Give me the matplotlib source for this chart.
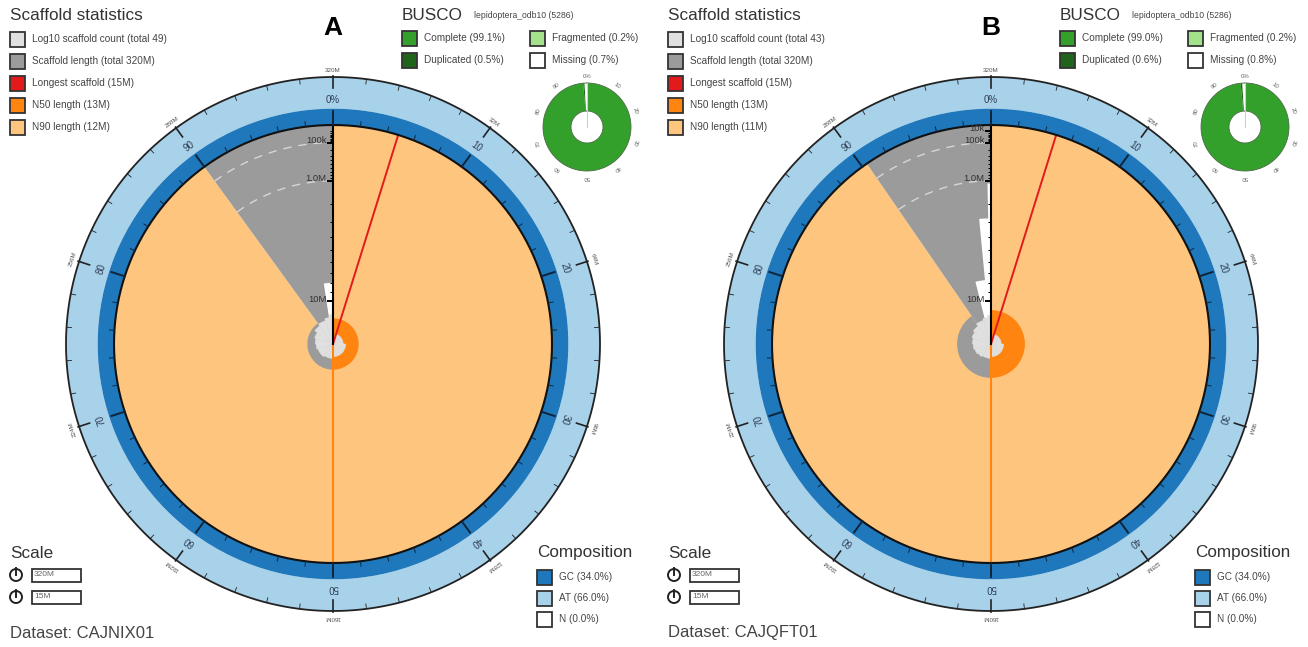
import numpy as np
import matplotlib
matplotlib.use("Agg")
import matplotlib.pyplot as plt
from matplotlib.patches import Rectangle, Circle

plt.rcParams["font.family"] = ["Liberation Sans", "DejaVu Sans"]

W, H = 1308, 647

# assembly summary (lengths in Mb)
tags = ["A", "B"]
datasets = ["CAJNIX01", "CAJQFT01"]
total_len = [320, 320]
longest = [15.4, 15.4]
n50_len = [13, 13]
n90_len = [12, 11]
scaffold_total = [49, 43]
n50_pct = [50, 50]
n90_pct = [90, 90.4]
gc_pct = [34.0, 34.0]
at_pct = [66.0, 66.0]
n_pct = [0.0, 0.0]

busco_lineage = "lepidoptera_odb10 (5286)"
busco_complete = [99.1, 99.0]
busco_duplicated = [0.5, 0.6]
busco_fragmented = [0.2, 0.2]
busco_missing = [0.7, 0.8]

# cumulative scaffold count along the assembly (bin edges in %)
count_edges = [0, 5, 10, 15, 20, 25, 30, 35, 40, 45, 50, 55, 60, 65, 70, 75, 80, 85, 90, 95, 98, 100]
count_A = [1, 2, 2, 2, 2, 3, 3, 3, 3, 3, 4, 4, 5, 5, 6, 7, 9, 15, 21, 30, 49]
count_B = [1, 2, 2, 2, 2, 3, 3, 3, 3, 3, 4, 4, 5, 6, 7, 8, 10, 14, 22, 30, 43]
counts = [count_A, count_B]

# short scaffolds at the end of each assembly: start (%) and length (Mb)
tail_start = [[97.6], [96.1, 98.5, 99.65]]
tail_len = [[8.0], [7.7, 2.8, 1.1]]

# labelled positions on the length axis (Mb)
radial_ticks = [[0.1, 1, 10], [0.01, 0.1, 1, 10]]

# colours
C_N90 = "#fec57f"
C_N50 = "#ff8410"
C_LEN = "#9b9b9b"
C_CNT = "#e0e0e0"
C_RED = "#e31a1c"
C_GC = "#1f78bb"
C_AT = "#a8d1ea"
C_COMP = "#33a02c"
C_DUP = "#20641c"
C_FRAG = "#a3e28b"

R_IN, R_OUT = 219, 267
R_AX = 292
CX, CY = 333, 344
PANEL_DX = [0, 658]


def pct2th(p):
    return np.asarray(p) / 100.0 * 2 * np.pi


def len2r(L, lmax):
    return R_IN * (1 - np.sqrt(np.asarray(L) / lmax))


def count2r(c):
    return 6 + 14 * np.log10(np.asarray(c))


def fmt_len(v):
    if v >= 10:
        return f"{v:.0f}M"
    if v >= 1:
        return f"{v:.1f}M"
    return f"{v * 1000:.0f}k"


def polar_axes(fig, cx, cy, rad):
    a = fig.add_axes([(cx - rad) / W, 1 - (cy + rad) / H, 2 * rad / W, 2 * rad / H],
                     projection="polar")
    a.set_theta_zero_location("N")
    a.set_theta_direction(-1)
    a.set_ylim(0, rad)
    a.set_axis_off()
    return a


fig = plt.figure(figsize=(W / 100, H / 100), dpi=100)
ax0 = fig.add_axes([0, 0, 1, 1])
ax0.set_xlim(0, W)
ax0.set_ylim(H, 0)
ax0.axis("off")

full = np.linspace(0, 2 * np.pi, 721)

for i in range(2):
    dx = PANEL_DX[i]
    lmax = longest[i]
    ax = polar_axes(fig, CX + dx, CY, R_AX)

    # composition ring
    r_split = R_IN + (R_OUT - R_IN) * gc_pct[i] / (gc_pct[i] + at_pct[i])
    ax.bar(0, R_OUT - r_split, width=2 * np.pi, bottom=r_split, align="edge", color=C_AT, lw=0)
    ax.bar(0, r_split - R_IN, width=2 * np.pi, bottom=R_IN, align="edge", color=C_GC, lw=0)

    # N90 area and scaffold length area
    ax.bar(0, R_IN, width=pct2th(n90_pct[i]), align="edge", color=C_N90, lw=0)
    ax.bar(pct2th(n90_pct[i]), R_IN, width=pct2th(100 - n90_pct[i]), align="edge",
           color=C_LEN, lw=0)
    th_arc = np.linspace(pct2th(n90_pct[i]), 2 * np.pi, 100)
    for v in [1, 0.1]:
        ax.plot(th_arc, np.full_like(th_arc, len2r(v, lmax)), color="#d6d6d6", lw=1,
                dashes=(6, 5))
    for s, L in zip(tail_start[i], tail_len[i]):
        ax.bar(pct2th(s), len2r(L, lmax), width=pct2th(100 - s), align="edge",
               color="white", lw=0)

    # N50 / N90 inner ring
    r_ring = len2r(n90_len[i], lmax)
    ax.bar(pct2th(n50_pct[i]), r_ring, width=pct2th(n90_pct[i] - n50_pct[i]), align="edge",
           color=C_LEN, lw=0)
    ax.bar(0, r_ring, width=pct2th(n50_pct[i]), align="edge", color=C_N50, lw=0)
    th_n50 = pct2th(n50_pct[i])
    ax.plot([th_n50, th_n50], [0, R_IN], color=C_N50, lw=1.5)

    # log10 scaffold count
    e = np.array(count_edges)
    ax.bar(pct2th(e[:-1]), count2r(counts[i]), width=pct2th(np.diff(e)), align="edge",
           color=C_CNT, edgecolor=C_CNT, lw=0.3)

    # longest scaffold
    th_long = pct2th(100 * longest[i] / total_len[i])
    ax.plot([th_long, th_long], [0, R_IN], color=C_RED, lw=1.4)

    # length axis along 0%
    ax.plot([0, 0], [0, R_IN], color="black", lw=1.5)
    minor = [k * 10.0 ** p for p in range(-2, 2) for k in range(1, 10)]
    minor = [v for v in minor if v < lmax and len2r(v, lmax) <= R_IN]
    ax.plot(np.zeros(len(minor)), len2r(minor, lmax), ls="none", marker=0, ms=2.5,
            mew=0.7, color="black")
    ax.plot(np.zeros(len(radial_ticks[i])), len2r(radial_ticks[i], lmax), ls="none",
            marker=0, ms=4.5, mew=1.3, color="black")
    for v in radial_ticks[i]:
        ax.annotate(fmt_len(v), xy=(0, len2r(v, lmax)), xytext=(-4.5, 1.5),
                    textcoords="offset points", ha="right", va="center", fontsize=6.8,
                    color="#333333")

    # circles
    ax.plot(full, np.full_like(full, R_IN), color="#111111", lw=1.5)
    ax.plot(full, np.full_like(full, R_OUT), color="#222222", lw=1.3)

    # percentage scale
    for k in range(50):
        th = pct2th(2 * k)
        major = k % 5 == 0
        ax.plot([th, th], [R_IN, R_IN + (14 if major else 5)], color="#10243a",
                lw=1.4 if major else 0.7)
    for k in range(10):
        deg = 36 * k
        ax.text(pct2th(10 * k), 244, "0%" if k == 0 else str(10 * k), rotation=-deg,
                rotation_mode="anchor", ha="center", va="center", fontsize=7,
                color="#2f3f55")

    # length scale on outer ring
    step = total_len[i] / 10
    for k in range(50):
        th = 2 * np.pi * k / 50
        major = k % 5 == 0
        ax.plot([th, th], [R_OUT - (11 if major else 5), R_OUT + (1 if major else 0)],
                color="#222222", lw=1.2 if major else 0.6)
    for k in range(10):
        deg = 36 * k
        val = total_len[i] if k == 0 else step * k
        ax.text(2 * np.pi * k / 10, 274, f"{val:.0f}M", rotation=-deg, rotation_mode="anchor",
                ha="center", va="center", fontsize=4.5, color="#555555")

    # BUSCO donut
    bx, by = 587 + dx, 127
    bax = polar_axes(fig, bx, by, 58)
    single = busco_complete[i] - busco_duplicated[i]
    parts = [(single, C_COMP), (busco_duplicated[i], C_DUP), (busco_fragmented[i], C_FRAG),
             (busco_missing[i], "white")]
    start = 0
    for val, col in parts:
        bax.bar(pct2th(start), 28, width=pct2th(val), bottom=16, align="edge", color=col, lw=0)
        start += val
    small = np.linspace(0, 2 * np.pi, 200)
    bax.plot(small, np.full_like(small, 44), color="#4d6b47", lw=0.6)
    bax.plot(small, np.full_like(small, 16), color="#4d6b47", lw=0.6)
    bax.plot([0, 0], [0, 44], color="#cfcfcf", lw=0.8)
    for k in range(10):
        bax.text(pct2th(10 * k), 51, "0%" if k == 0 else str(10 * k), rotation=-36 * k,
                 rotation_mode="anchor", ha="center", va="center", fontsize=4.3,
                 color="#666666")

    # panel letter
    ax0.text(CX + dx, 28, tags[i], ha="center", va="center", fontsize=19, fontweight="bold",
             color="black")

    # scaffold statistics legend
    ax0.text(10 + dx, 15, "Scaffold statistics", ha="left", va="center", fontsize=12.3,
             color="#333333")
    stat_cols = [C_CNT, C_LEN, C_RED, C_N50, C_N90]
    stat_labels = [f"Log10 scaffold count (total {scaffold_total[i]})",
                   f"Scaffold length (total {total_len[i]:.0f}M)",
                   f"Longest scaffold ({longest[i]:.0f}M)",
                   f"N50 length ({n50_len[i]:.0f}M)",
                   f"N90 length ({n90_len[i]:.0f}M)"]
    for k, (col, lab) in enumerate(zip(stat_cols, stat_labels)):
        y = 39 + 22 * k
        ax0.add_patch(Rectangle((10 + dx, y - 7.5), 15, 15, facecolor=col, edgecolor="#333333",
                                lw=1.3))
        ax0.text(32 + dx, y, lab, ha="left", va="center", fontsize=7.2, color="#444444")

    # BUSCO legend
    ax0.text(402 + dx, 15, "BUSCO", ha="left", va="center", fontsize=12.3, color="#333333")
    ax0.text(474 + dx, 16, busco_lineage, ha="left", va="center", fontsize=6.2, color="#444444")
    busco_items = [(C_COMP, f"Complete ({busco_complete[i]:.1f}%)", 402, 38),
                   (C_DUP, f"Duplicated ({busco_duplicated[i]:.1f}%)", 402, 60),
                   (C_FRAG, f"Fragmented ({busco_fragmented[i]:.1f}%)", 530, 38),
                   ("white", f"Missing ({busco_missing[i]:.1f}%)", 530, 60)]
    for col, lab, x, y in busco_items:
        ax0.add_patch(Rectangle((x + dx, y - 7.5), 15, 15, facecolor=col, edgecolor="#333333",
                                lw=1.3))
        ax0.text(x + 22 + dx, y, lab, ha="left", va="center", fontsize=7.2, color="#444444")

    # scale legend
    ax0.text(10 + dx, 553, "Scale", ha="left", va="center", fontsize=12.3, color="#333333")
    for k, lab in enumerate([f"{total_len[i]:.0f}M", f"{longest[i]:.0f}M"]):
        y = 575 + 22 * k
        ax0.add_patch(Circle((16 + dx, y), 6, facecolor="none", edgecolor="#222222", lw=1.4))
        ax0.plot([16 + dx, 16 + dx], [y - 7, y], color="#222222", lw=1.4)
        ax0.add_patch(Rectangle((32 + dx, y - 6.5), 49, 13, facecolor="white",
                                edgecolor="#333333", lw=1.3))
        ax0.text(34 + dx, y, lab, ha="left", va="center", fontsize=6, color="#666666")

    ax0.text(10 + dx, 633, f"Dataset: {datasets[i]}", ha="left", va="center", fontsize=12,
             color="#444444")

    # composition legend
    ax0.text(537 + dx, 553, "Composition", ha="left", va="center", fontsize=12.3,
             color="#333333")
    comp_items = [(C_GC, f"GC ({gc_pct[i]:.1f}%)"), (C_AT, f"AT ({at_pct[i]:.1f}%)"),
                  ("white", f"N ({n_pct[i]:.1f}%)")]
    for k, (col, lab) in enumerate(comp_items):
        y = 577 + 21 * k
        ax0.add_patch(Rectangle((537 + dx, y - 7.5), 15, 15, facecolor=col, edgecolor="#333333",
                                lw=1.3))
        ax0.text(559 + dx, y, lab, ha="left", va="center", fontsize=7.2, color="#444444")

fig.savefig("out.png", dpi=100)
